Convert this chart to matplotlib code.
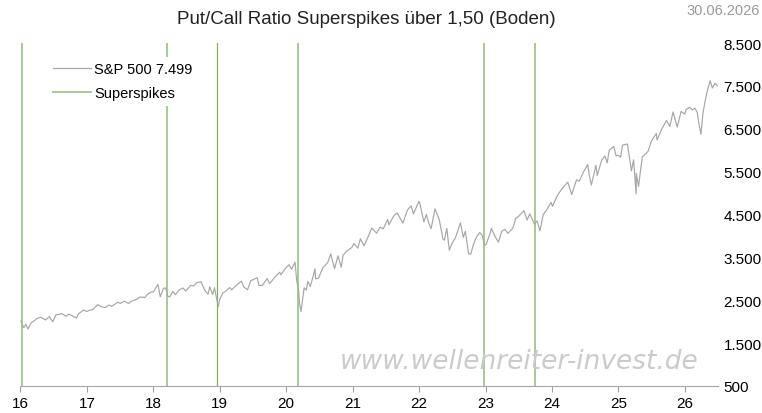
import matplotlib
matplotlib.use("Agg")
import matplotlib.pyplot as plt
import pandas as pd

# ---- data ----
spx_dates = [
    "2016-01-04","2016-01-20","2016-02-01","2016-02-11","2016-03-01","2016-03-15","2016-04-01","2016-04-20",
    "2016-05-02","2016-05-19","2016-06-08","2016-06-27","2016-07-15","2016-08-01","2016-08-15","2016-09-09",
    "2016-09-22","2016-10-14","2016-11-04","2016-11-15","2016-12-13","2016-12-30",
    "2017-01-17","2017-02-01","2017-03-01","2017-03-27","2017-04-13","2017-05-01","2017-05-17","2017-06-19",
    "2017-07-03","2017-07-26","2017-08-18","2017-09-01","2017-09-29","2017-10-20","2017-11-15","2017-12-01","2017-12-18",
    "2018-01-02","2018-01-26","2018-02-08","2018-02-26","2018-03-09","2018-03-23","2018-04-02","2018-04-18",
    "2018-05-03","2018-05-21","2018-06-12","2018-06-28","2018-07-25","2018-08-10","2018-08-29","2018-09-20",
    "2018-10-11","2018-10-29","2018-11-07","2018-11-23","2018-12-03","2018-12-24","2018-12-31",
    "2019-01-18","2019-02-01","2019-02-25","2019-03-08","2019-03-29","2019-04-30","2019-05-13","2019-06-03",
    "2019-06-20","2019-07-26","2019-08-05","2019-08-23","2019-09-19","2019-10-02","2019-10-31","2019-11-27",
    "2019-12-03","2019-12-27",
    "2020-01-17","2020-01-31","2020-02-19","2020-02-28","2020-03-09","2020-03-16","2020-03-23","2020-04-09",
    "2020-04-21","2020-04-29","2020-05-13","2020-06-08","2020-06-11","2020-06-26","2020-07-21","2020-08-17",
    "2020-09-02","2020-09-23","2020-10-12","2020-10-30","2020-11-09","2020-11-27","2020-12-28",
    "2021-01-08","2021-01-29","2021-02-12","2021-03-04","2021-03-26","2021-04-16","2021-05-12","2021-05-31",
    "2021-06-18","2021-07-12","2021-07-19","2021-08-16","2021-09-02","2021-10-04","2021-10-29","2021-11-18",
    "2021-12-01","2021-12-29",
    "2022-01-03","2022-01-27","2022-02-10","2022-02-24","2022-03-08","2022-03-29","2022-04-21","2022-05-12",
    "2022-05-20","2022-06-02","2022-06-16","2022-07-01","2022-07-20","2022-08-16","2022-09-01","2022-09-12",
    "2022-09-30","2022-10-12","2022-10-27","2022-11-10","2022-11-30","2022-12-13","2022-12-28",
    "2023-01-05","2023-01-27","2023-02-02","2023-02-22","2023-03-13","2023-03-31","2023-04-18","2023-05-04",
    "2023-05-31","2023-06-16","2023-06-30","2023-07-31","2023-08-18","2023-09-01","2023-09-27","2023-10-12",
    "2023-10-27","2023-11-14","2023-12-01","2023-12-28",
    "2024-01-04","2024-01-29","2024-02-23","2024-03-28","2024-04-19","2024-05-15","2024-05-31","2024-06-20",
    "2024-07-16","2024-07-25","2024-08-05","2024-08-30","2024-09-06","2024-09-30","2024-10-18","2024-10-31",
    "2024-11-11","2024-12-06","2024-12-19","2024-12-31",
    "2025-01-13","2025-01-23","2025-02-19","2025-03-13","2025-03-25","2025-04-08","2025-04-09","2025-04-21",
    "2025-05-12","2025-05-30","2025-06-13","2025-06-30","2025-07-28","2025-08-01","2025-08-28","2025-09-22",
    "2025-10-10","2025-10-28","2025-11-20","2025-12-11","2025-12-31",
    "2026-01-08","2026-01-27","2026-02-10","2026-02-25","2026-03-10","2026-03-20","2026-03-30","2026-04-10",
    "2026-04-20","2026-05-05","2026-05-20","2026-06-01","2026-06-15","2026-06-30",
]
spx_values = [
    2012,1859,1939,1829,1978,2015,2072,2102,
    2081,2040,2119,2000,2161,2170,2190,2128,
    2177,2132,2085,2180,2271,2239,
    2268,2280,2396,2341,2329,2388,2357,2453,
    2429,2477,2425,2476,2519,2575,2565,2642,2690,
    2695,2873,2581,2780,2786,2588,2582,2708,
    2630,2733,2787,2716,2846,2833,2914,2930,
    2729,2641,2814,2633,2790,2351,2507,
    2671,2707,2796,2743,2834,2946,2812,2744,
    2954,3026,2844,2847,3006,2887,3038,3154,
    3093,3240,
    3330,3225,3386,2954,2747,2386,2237,2790,
    2737,2940,2820,3232,3002,3009,3257,3382,
    3580,3237,3535,3270,3550,3638,3735,
    3824,3714,3934,3768,3974,4185,4063,4204,
    4166,4384,4258,4479,4537,4300,4605,4704,
    4513,4793,
    4797,4326,4504,4288,4170,4632,4393,3930,
    3901,4176,3667,3825,3960,4305,3966,4110,
    3585,3577,3807,3956,4080,4019,3783,
    3808,4070,4179,3991,3855,4109,4154,4061,
    4180,4410,4450,4589,4370,4516,4274,4349,
    4117,4496,4595,4783,
    4688,4928,5089,5254,4967,5308,5278,5473,
    5667,5399,5186,5648,5408,5762,5864,5705,
    6001,6090,5867,5882,
    5836,6118,6144,5521,5776,4982,5456,5158,
    5844,5912,5977,6205,6389,6238,6502,6693,
    6553,6891,6538,6901,6845,
    6950,7000,6940,6980,6880,6600,6370,6850,
    7100,7400,7620,7450,7560,7499,
]
spike_dates = ["2016-01-12", "2018-03-19", "2018-12-15", "2020-03-04", "2022-12-26", "2023-09-28"]
year_ticks = ["2016", "2017", "2018", "2019", "2020", "2021", "2022", "2023", "2024", "2025", "2026"]
year_labels = ["16", "17", "18", "19", "20", "21", "22", "23", "24", "25", "26"]
y_ticks = [500, 1500, 2500, 3500, 4500, 5500, 6500, 7500, 8500]
y_labels = ["500", "1.500", "2.500", "3.500", "4.500", "5.500", "6.500", "7.500", "8.500"]

plt.rcParams['font.family'] = ['Liberation Sans', 'DejaVu Sans']

fig = plt.figure(figsize=(7.62, 4.14), dpi=100)
ax = fig.add_axes([20/762, 1-387/414, (718-20)/762, (387-44)/414])

x = pd.to_datetime(spx_dates)
ax.plot(x, spx_values, color='#a6a6a6', lw=0.85, label='S&P 500 7.499', zorder=3)

for i, d in enumerate(spike_dates):
    dd = pd.Timestamp(d)
    if i == 2:
        ax.axvline(dd, color='#7fb066', lw=0.9, zorder=2)
    else:
        ax.axvline(dd, color='#9ec78c', lw=1.3, zorder=2,
                   label='Superspikes' if i == 0 else None)

ax.set_xlim(pd.Timestamp("2015-12-30"), pd.Timestamp("2026-07-02"))
ax.set_ylim(500, 8500)

ax.set_xticks(pd.to_datetime(year_ticks))
ax.set_xticklabels(year_labels, fontsize=11)
ax.yaxis.tick_right()
ax.set_yticks(y_ticks)
ax.set_yticklabels(y_labels, fontsize=11)
ax.tick_params(axis='y', length=0, pad=4)
ax.tick_params(axis='x', length=4, color='#a0a0a0', pad=3)

for s in ['top', 'left', 'right']:
    ax.spines[s].set_visible(False)
ax.spines['bottom'].set_color('#a8a8a8')

leg = ax.legend(loc='upper left', bbox_to_anchor=(0.03, 0.98), frameon=True, fontsize=10.5,
                handlelength=2.55, handletextpad=0.25, labelspacing=0.7, borderpad=0.35)
leg.get_frame().set_edgecolor('none')
leg.get_frame().set_facecolor('white')
leg.get_frame().set_alpha(1)
leg.set_zorder(5)

fig.text(366/762, 1-20/414, "Put/Call Ratio Superspikes über 1,50 (Boden)", ha='center', va='center',
         fontsize=13.5, color='#222222')
fig.text(760/762, 1-11/414, "30.06.2026", ha='right', va='center', fontsize=10.5, color='#9a9a9a')
fig.text(519/762, 1-362/414, "www.wellenreiter-invest.de", ha='center', va='center',
         fontsize=19, color='#cbcbcb', family='DejaVu Sans', style='oblique', zorder=1)

fig.savefig("out.png", dpi=100)
